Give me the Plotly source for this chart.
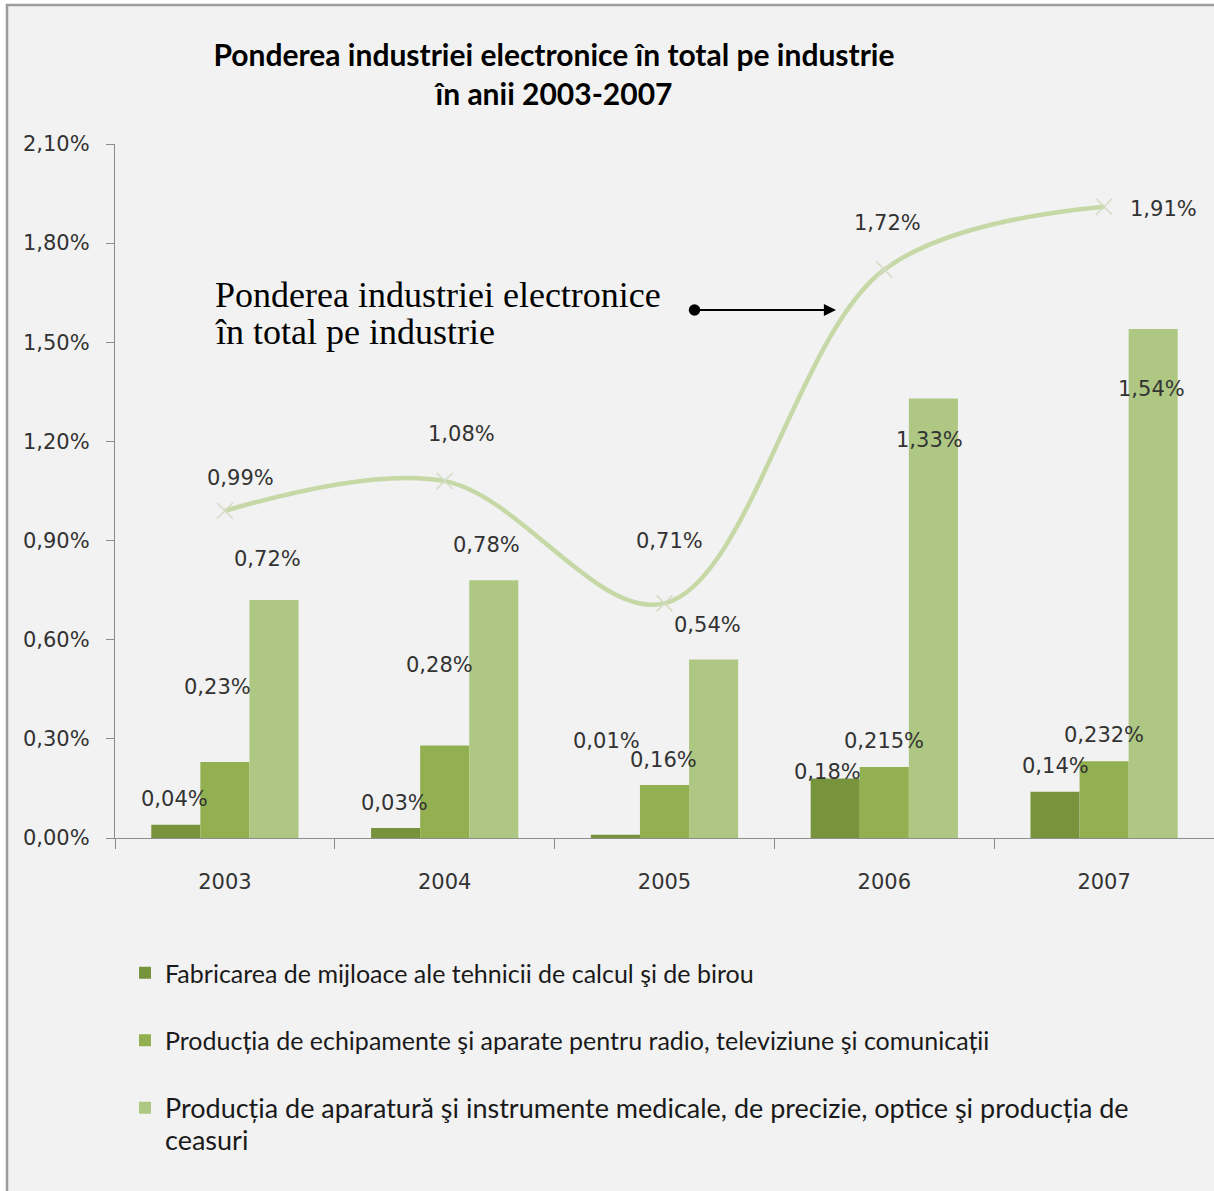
import plotly.graph_objects as go

# ---- data (values in percent) ----
years = ["2003", "2004", "2005", "2006", "2007"]
calcul_birou = [0.04, 0.03, 0.01, 0.18, 0.14]
radio_tv_com = [0.23, 0.28, 0.16, 0.215, 0.232]
aparatura_medicala = [0.72, 0.78, 0.54, 1.33, 1.54]
total_electronica = [0.99, 1.08, 0.71, 1.72, 1.91]

series_names = [
    "Fabricarea de mijloace ale tehnicii de calcul şi de birou",
    "Producția de echipamente şi aparate pentru radio, televiziune şi comunicații",
    '<span style="font-size:27px">Producția de aparatură şi instrumente medicale, '
    'de precizie, optice şi producția de<br>ceasuri</span>',
]
title_text = "Ponderea industriei electronice în total pe industrie<br>în anii 2003-2007"
callout_lines = ["Ponderea industriei electronice", "în total pe industrie"]

# ---- styling ----
W, H = 1214, 1191
ML, MR, MT, MB = 115, 0, 144, 353
PLOT_W = W - ML - MR
PLOT_H = H - MT - MB

bar_colors = ["#77933c", "#92b050", "#aec884"]
line_color = "#c6d8a6"
label_font = dict(family="DejaVu Sans", size=21, color="#333333")

# pixel offsets (dx, dy) of each value label relative to the top of its mark
bar_label_offsets = [
    [(-50, 26), (-50, 25), (-58, 94), (-57, 7), (-49, 26)],
    [(-7, 75), (-5, 80), (-1, 25), (0, 26), (0, 26)],
    [(43, 41), (42, 35), (43, 35), (45, -42), (47, -60)],
]
line_label_offsets = [(16, 33), (17, 47), (5, 62), (3, 47), (59, -2)]


def fmt_pct(v):
    s = f"{v:.3f}"
    if s.endswith("0"):
        s = s[:-1]
    return s.replace(".", ",") + "%"


def px_to_paper(px, py):
    return (px - ML) / PLOT_W, (H - MB - py) / PLOT_H


fig = go.Figure()

for name, vals, col in zip(series_names,
                           [calcul_birou, radio_tv_com, aparatura_medicala],
                           bar_colors):
    fig.add_trace(go.Bar(
        x=years, y=vals, name=name, marker=dict(color=col, line=dict(width=0)),
        legendgroup=name, hoverinfo="x+y",
    ))

fig.add_trace(go.Scatter(
    x=years, y=total_electronica, mode="lines+markers",
    line=dict(color=line_color, width=4.5, shape="spline", smoothing=1.0),
    marker=dict(symbol="x-thin", size=16, color="#d3dbc4",
                line=dict(color="#d3dbc4", width=1.5)),
    showlegend=False, name="Ponderea industriei electronice în total pe industrie",
))

annotations = []
for vals, offs in zip([calcul_birou, radio_tv_com, aparatura_medicala], bar_label_offsets):
    for i, (v, (dx, dy)) in enumerate(zip(vals, offs)):
        annotations.append(dict(x=i, y=v, xref="x", yref="y", text=fmt_pct(v),
                                showarrow=False, xshift=dx, yshift=dy, font=label_font))
for i, (v, (dx, dy)) in enumerate(zip(total_electronica, line_label_offsets)):
    annotations.append(dict(x=i, y=v, xref="x", yref="y", text=fmt_pct(v),
                            showarrow=False, xshift=dx, yshift=dy, font=label_font))

# callout text with arrow pointing at the line
for line_txt, py in zip(callout_lines, [295, 332]):
    cx, cy = px_to_paper(213, py)
    annotations.append(dict(x=cx, y=cy, xref="paper", yref="paper", text=line_txt,
                            showarrow=False, xanchor="left", yanchor="middle", align="left",
                            font=dict(family="Liberation Serif", size=36, color="#000000")))
tx, ty = px_to_paper(836, 310)
annotations.append(dict(x=tx, y=ty, xref="paper", yref="paper", ax=693 - 836, ay=0,
                        axref="pixel", ayref="pixel", text="", showarrow=True,
                        arrowhead=2, arrowsize=1.1, arrowwidth=2.2, arrowcolor="#000000",
                        arrowside="end+start", startarrowhead=6, startarrowsize=1.3))

# chart frame
bx0, by0 = px_to_paper(7, 1230)
bx1, by1 = px_to_paper(1240, 5)
shapes = [dict(type="rect", xref="paper", yref="paper", x0=bx0, y0=by0, x1=bx1, y1=by1,
               fillcolor="#f2f2f2", line=dict(color="#9c9c9c", width=2.5), layer="below")]

fig.update_layout(
    width=W, height=H,
    margin=dict(l=ML, r=MR, t=MT, b=MB, pad=0, autoexpand=False),
    paper_bgcolor="#ffffff", plot_bgcolor="#f2f2f2",
    separators=",.",
    barmode="group", bargap=0.33, bargroupgap=0,
    title=dict(text=title_text, x=554 / W, xref="container", xanchor="center",
               y=1 - 66 / H, yref="container", yanchor="middle",
               font=dict(family="Lato", size=30, color="#000000", weight="bold")),
    xaxis=dict(type="category", range=[-0.5, 4.5], autorange=False,
               tickson="boundaries", ticks="outside", ticklen=10,
               tickcolor="#8c8c8c", showline=True, linecolor="#8c8c8c", linewidth=1.2,
               showgrid=False, ticklabelstandoff=25, automargin=False, tickangle=0,
               tickfont=dict(family="DejaVu Sans", size=21, color="#333333")),
    yaxis=dict(range=[0, 2.1], autorange=False, dtick=0.3, tick0=0, tickformat=".2f",
               ticksuffix="%", ticks="outside", ticklen=8, tickcolor="#8c8c8c",
               showline=True, linecolor="#8c8c8c", linewidth=1.2, showgrid=False,
               zeroline=False, ticklabelstandoff=12, automargin=False,
               tickfont=dict(family="DejaVu Sans", size=21, color="#333333")),
    legend=dict(x=125 / W, xref="container", xanchor="left",
                y=1 - 950 / H, yref="container", yanchor="top",
                bgcolor="rgba(0,0,0,0)", traceorder="grouped", tracegroupgap=32,
                valign="top", font=dict(family="Lato", size=25, color="#1a1a1a")),
    annotations=annotations,
    shapes=shapes,
)

fig.write_html("out.html")
